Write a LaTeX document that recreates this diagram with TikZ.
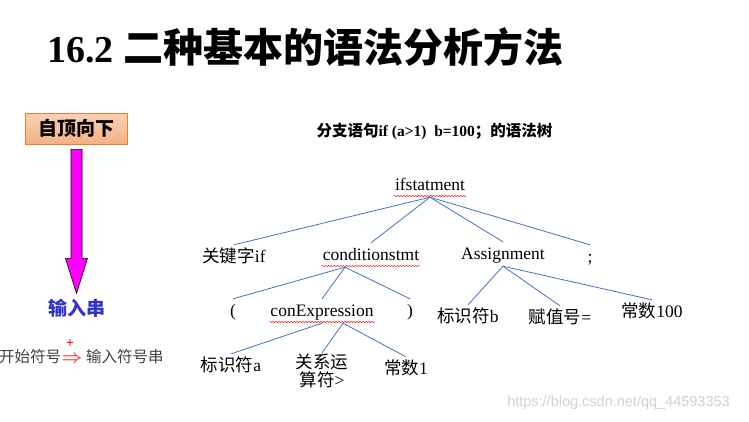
\documentclass[tikz,border=0pt]{standalone}
\usepackage{fontspec}
\setmainfont{Liberation Serif}
\newfontfamily\cjk{Noto Sans CJK SC}
\newfontfamily\wmfont{Liberation Sans}
\usetikzlibrary{decorations.pathmorphing}
\newcommand{\pxsize}[1]{\fontsize{#1}{#1}\selectfont}
\definecolor{treeblue}{HTML}{4472C4}
\definecolor{boxline}{HTML}{ED7D31}
\definecolor{inputblue}{HTML}{3333CC}
\definecolor{plaingray}{HTML}{404040}
\definecolor{arrowpink}{HTML}{FF00FF}
\tikzset{
  leaf/.style={inner sep=1pt, font=\pxsize{17.5}},
  word/.style={leaf, anchor=base, text height=16pt, text depth=6pt},
  branch/.style={draw=treeblue, line width=0.8pt},
  squiggle/.style={draw=red, line width=0.4pt, decorate,
    decoration={snake, amplitude=0.7pt, segment length=3pt}},
  bigarrow/.style={fill=arrowpink, draw=black, line width=0.6pt},
}
\begin{document}
\begin{tikzpicture}[x=1pt, y=-1pt]
  \path[use as bounding box, fill=white] (0,0) rectangle (749,421);
  % heading
  \node[anchor=base west, inner sep=0pt] (head) at (47,62)
    {\pxsize{38}\bfseries 16.2 {\cjk\pxsize{40}二种基本的语法分析方法}};
  % left side
  \node[draw=boxline, line width=0.8pt, top color=boxline!35, bottom color=boxline!60,
        minimum width=102pt, minimum height=31pt, font=\cjk\bfseries\pxsize{19}] (top) at (76,128.5) {自顶向下};
  \node[font=\cjk\bfseries\pxsize{19}, text=inputblue] (inp) at (77,308) {输入串};
  \draw[bigarrow] ([xshift=-5pt,yshift=-5pt]top.south) -- ++(11,0) -- ++(0,109) -- ++(5.5,0)
    -- ++(-11,35) -- ++(-11,-35) -- ++(5.5,0) -- cycle;
  \node[anchor=west, inner sep=0pt, font=\cjk\pxsize{15.5}, text=plaingray] (start) at (-1,357) {开始符号};
  \node[inner sep=0pt, text=red, font=\pxsize{20}] (deriv) at (72,360) {$\Rightarrow$};
  \node[inner sep=0pt, text=red, font=\bfseries\pxsize{14}] (plus) at (70,344) {+};
  \node[anchor=west, inner sep=0pt, font=\cjk\pxsize{15.5}, text=plaingray] (string) at (86,357) {输入符号串};
  % tree caption
  \node[font=\pxsize{15.5}\bfseries] (cap) at (434.5,132)
    {{\cjk 分支语句}if (a>1)\ \ b=100{\cjk ；的语法树}};
  % tree
  \node[word] (1) at (430,190) {ifstatment};
  \node[word] (2) at (234,262) {{\cjk 关键字}if};
  \node[word] (3) at (371,260) {conditionstmt};
  \node[word] (4) at (503,259) {Assignment};
  \node[word] (5) at (590,262) {;};
  \node[word] (6) at (233,316) {(};
  \node[word] (7) at (322,316) {conExpression};
  \node[word] (8) at (410,316) {)};
  \node[word] (9) at (468,322) {{\cjk 标识符}b};
  \node[word] (10) at (560,323) {{\cjk 赋值号}=};
  \node[word] (11) at (652,317) {{\cjk 常数}100};
  \node[word] (12) at (231,371) {{\cjk 标识符}a};
  \node[leaf, anchor=north, align=center] (13) at (322,353) {{\cjk 关系运}\\{\cjk 算符}>};
  \node[word] (14) at (406,374) {{\cjk 常数}1};
  \coordinate (3b) at ([xshift=-26pt]3.south);
  \coordinate (7b) at ([xshift=21pt]7.south);
  \foreach \source/\dest in {1.south/2, 1.south/3, 1.south/4, 1.south/5, 3b/6, 3b/7, 3b/8,
                             4.south/9, 4.south/10, 4.south/11, 7.south/12, 7b/13, 7b/14}
    \draw[branch] (\source) -- (\dest.north);
  \foreach \n in {1,3,7}
    \draw[squiggle] ([yshift=-6pt]\n.base west) -- ([yshift=-6pt]\n.base east);
  % watermark
  \node[font=\wmfont\pxsize{14.5}, text=black!18] (mark) at (618.5,403) {https://blog.csdn.net/qq\_44593353};
\end{tikzpicture}
\end{document}
